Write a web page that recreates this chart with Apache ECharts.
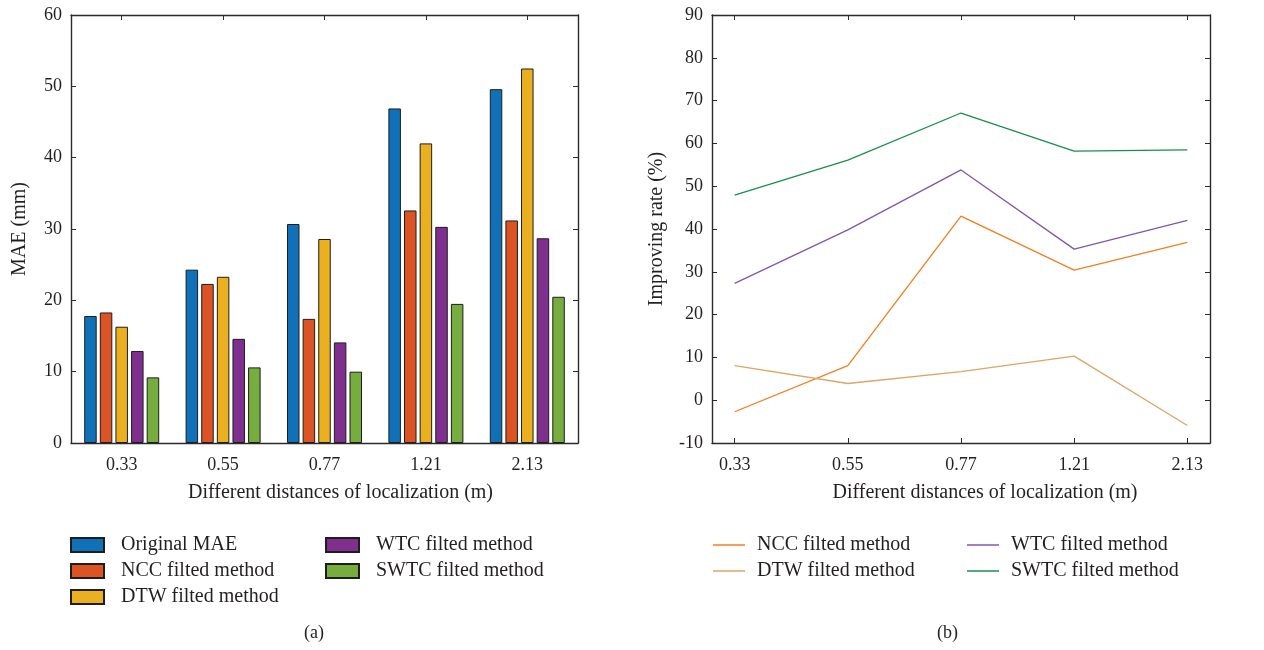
<!DOCTYPE html>
<html>
<head>
<meta charset="utf-8">
<script src="https://cdn.jsdelivr.net/npm/echarts@6/dist/echarts.min.js"></script>
<style>
  html, body { margin: 0; padding: 0; background: #fff; }
  #chart { width: 1264px; height: 650px; }
</style>
</head>
<body>
<div id="chart"></div>
<script>
const categories = ["0.33", "0.55", "0.77", "1.21", "2.13"];

// (a) MAE (mm)
const originalMae = [17.8, 24.3, 30.7, 46.9, 49.6];
const nccMae = [18.3, 22.3, 17.4, 32.6, 31.2];
const dtwMae = [16.3, 23.3, 28.6, 42.0, 52.5];
const wtcMae = [12.9, 14.6, 14.1, 30.3, 28.7];
const swtcMae = [9.2, 10.6, 10.0, 19.5, 20.5];

// (b) Improving rate (%)
const nccRate = [-2.7, 8.1, 43.0, 30.4, 36.9];
const dtwRate = [8.1, 3.9, 6.7, 10.3, -5.9];
const wtcRate = [27.3, 39.8, 53.8, 35.3, 42.0];
const swtcRate = [47.9, 56.1, 67.1, 58.2, 58.5];

const maeTicks = [0, 10, 20, 30, 40, 50, 60];
const rateTicks = [-10, 0, 10, 20, 30, 40, 50, 60, 70, 80, 90];

const font = "Liberation Serif";
const textColor = "#231f20";
const axisColor = "#2b2b2b";
const idx = categories.map((c, i) => i);

const chart = echarts.init(document.getElementById("chart"));

const baseLine = { show: true, onZero: false, lineStyle: { color: axisColor, width: 1.4 } };
const tick = { show: true, inside: true, length: 5, lineStyle: { color: axisColor } };
const label = { fontFamily: font, fontSize: 18, color: textColor };
const nameStyle = { fontFamily: font, fontSize: 20, color: textColor };

function bar(name, data, color) {
  return {
    name, type: "bar", xAxisIndex: 0, yAxisIndex: 0, data,
    barWidth: 12.5, barGap: "25%",
    itemStyle: { color, borderColor: "#1e1e1e", borderWidth: 1 },
  };
}
function line(name, data, color) {
  return {
    name: "b:" + name, type: "line", xAxisIndex: 2, yAxisIndex: 2,
    data: data.map((v, i) => [idx[i], v]),
    symbol: "none", lineStyle: { color, width: 1.3 }, itemStyle: { color },
  };
}

const legendBase = {
  orient: "vertical", padding: 0, itemGap: 6, itemWidth: 33, itemHeight: 14, icon: "rect",
  textStyle: { fontFamily: font, fontSize: 20, lineHeight: 20, color: textColor, padding: [0, 0, 0, 12] },
  formatter: (n) => n.replace(/^b:/, ""),
};
const lineLegend = {
  ...legendBase, itemWidth: 32, itemHeight: 1.5,
  textStyle: { ...legendBase.textStyle, padding: [0, 0, 0, 7] },
};

const option = {
  animation: false,
  title: [
    { text: "(a)", left: 304, top: 624, padding: 0, textStyle: { ...label, fontWeight: "normal" } },
    { text: "(b)", left: 937, top: 624, padding: 0, textStyle: { ...label, fontWeight: "normal" } },
  ],
  legend: [
    { ...legendBase, left: 70, top: 535, data: ["Original MAE", "NCC filted method", "DTW filted method"] },
    { ...legendBase, left: 325, top: 535, data: ["WTC filted method", "SWTC filted method"] },
    { ...lineLegend, left: 713, top: 535, data: ["b:NCC filted method", "b:DTW filted method"] },
    { ...lineLegend, left: 967, top: 535, data: ["b:WTC filted method", "b:SWTC filted method"] },
  ],
  grid: [
    { left: 71, top: 15, width: 507, height: 428 },
    { left: 712, top: 15, width: 498, height: 428 },
  ],
  xAxis: [
    {
      type: "category", gridIndex: 0, data: categories,
      axisLine: baseLine, axisTick: { ...tick, alignWithLabel: true },
      axisLabel: { ...label, margin: 13 },
      name: "Different distances of localization (m)", nameLocation: "middle", nameGap: 40,
      nameTextStyle: { ...nameStyle, padding: [0, 0, 0, 32] },
    },
    {
      type: "category", gridIndex: 0, position: "top", data: categories,
      axisLine: baseLine, axisTick: { ...tick, alignWithLabel: true }, axisLabel: { show: false },
    },
    {
      type: "value", gridIndex: 1, min: -0.2, max: 4.2,
      axisLine: baseLine, splitLine: { show: false },
      axisTick: { ...tick, customValues: idx },
      axisLabel: { ...label, margin: 13, customValues: idx, formatter: (v) => categories[Math.round(v)] },
      name: "Different distances of localization (m)", nameLocation: "middle", nameGap: 40,
      nameTextStyle: { ...nameStyle, padding: [0, 0, 0, 48] },
    },
    {
      type: "value", gridIndex: 1, position: "top", min: -0.2, max: 4.2,
      axisLine: baseLine, splitLine: { show: false },
      axisTick: { ...tick, customValues: idx }, axisLabel: { show: false },
    },
  ],
  yAxis: [
    {
      type: "value", gridIndex: 0, min: maeTicks[0], max: maeTicks[maeTicks.length - 1], interval: 10,
      axisLine: baseLine, axisTick: tick, splitLine: { show: false },
      axisLabel: { ...label, margin: 9 },
      name: "MAE (mm)", nameLocation: "middle", nameGap: 41, nameTextStyle: nameStyle,
    },
    {
      type: "value", gridIndex: 0, position: "right", min: 0, max: 60, interval: 10,
      axisLine: baseLine, axisTick: tick, splitLine: { show: false }, axisLabel: { show: false },
    },
    {
      type: "value", gridIndex: 1, min: rateTicks[0], max: rateTicks[rateTicks.length - 1], interval: 10,
      axisLine: baseLine, axisTick: tick, splitLine: { show: false },
      axisLabel: { ...label, margin: 9 },
      name: "Improving rate (%)", nameLocation: "middle", nameGap: 45, nameTextStyle: nameStyle,
    },
    {
      type: "value", gridIndex: 1, position: "right", min: -10, max: 90, interval: 10,
      axisLine: baseLine, axisTick: tick, splitLine: { show: false }, axisLabel: { show: false },
    },
  ],
  series: [
    bar("Original MAE", originalMae, "#1071b9"),
    bar("NCC filted method", nccMae, "#dc5324"),
    bar("DTW filted method", dtwMae, "#ebb020"),
    bar("WTC filted method", wtcMae, "#7f2f8e"),
    bar("SWTC filted method", swtcMae, "#77ad3f"),
    line("NCC filted method", nccRate, "#f47f20"),
    line("DTW filted method", dtwRate, "#dfa565"),
    line("WTC filted method", wtcRate, "#7e57b4"),
    line("SWTC filted method", swtcRate, "#17914a"),
  ],
};

chart.setOption(option);
window.addEventListener("resize", () => chart.resize());
</script>
</body>
</html>
